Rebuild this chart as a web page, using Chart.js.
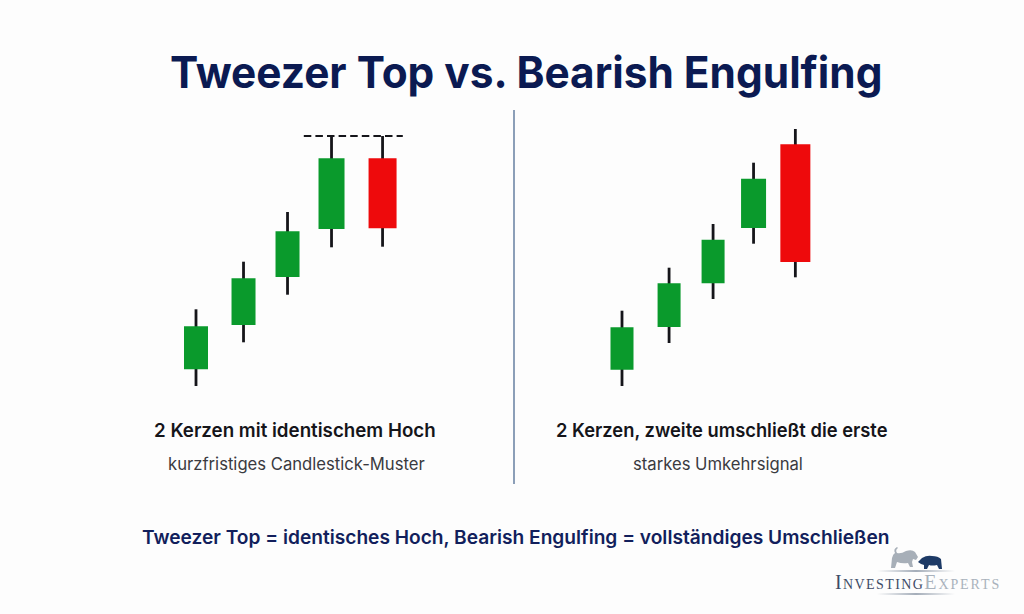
<!DOCTYPE html>
<html lang="de">
<head>
<meta charset="utf-8">
<title>Tweezer Top vs. Bearish Engulfing</title>
<script src="https://cdn.jsdelivr.net/npm/chart.js@4/dist/chart.umd.min.js"></script>
<style>
  html, body { margin: 0; padding: 0; background: #fdfdfd; }
  #page { position: relative; width: 1024px; height: 614px; overflow: hidden; font-family: Inter, "Noto Sans", sans-serif; }
  canvas { position: absolute; }
  .txt { position: absolute; white-space: nowrap; line-height: 1; transform-origin: left center; }
  #title { left: 170px; top: 50px; font-size: 44px; font-weight: 700; color: #0b1a52; transform: scaleX(0.963); }
  .head { top: 421px; font-size: 19px; font-weight: 600; color: #15151a; }
  .sub { top: 456px; font-size: 16.65px; color: #3a3a40; }
  #note { left: 142px; top: 528px; font-size: 19.15px; font-weight: 600; color: #121f5c; }
  #divider { position: absolute; left: 513px; top: 110px; width: 1.5px; height: 374px; background: #8c9fb8; }
  #brand { left: 835px; top: 572px; font-family: "Liberation Serif", serif; font-size: 20px; font-variant: small-caps; letter-spacing: 1.4px; color: #3d4b66; }
  #brand span { color: #a9b2bc; letter-spacing: 1.9px; }
  .rule { position: absolute; left: 877px; width: 78px; height: 2px; background: linear-gradient(90deg, rgba(150,160,175,0), #a4adb9 50%, rgba(150,160,175,0)); }
</style>
</head>
<body>
<div id="page">
  <div class="txt" id="title">Tweezer Top vs. Bearish Engulfing</div>

  <canvas id="leftChart" width="264" height="280" style="left:152px;top:120px"></canvas>
  <canvas id="rightChart" width="264" height="280" style="left:578px;top:120px"></canvas>
  <div id="divider"></div>

  <div class="txt head" style="left:154px;transform:scaleX(0.986)">2 Kerzen mit identischem Hoch</div>
  <div class="txt sub" style="left:168px">kurzfristiges Candlestick-Muster</div>
  <div class="txt head" style="left:556px;transform:scaleX(0.965)">2 Kerzen, zweite umschließt die erste</div>
  <div class="txt sub" style="left:633px">starkes Umkehrsignal</div>
  <div class="txt" id="note">Tweezer Top = identisches Hoch, Bearish Engulfing = vollständiges Umschließen</div>

  <svg style="position:absolute;left:885px;top:545px" width="62" height="26" viewBox="0 0 62 26">
    <path fill="#a7afb8" d="M6 23 L7 13 Q8 9 10 8 Q8 4 12 2 L13 3 Q10 5 12 8 Q16 9 21 6 Q27 4 30 7 L33 12 L31 15 L28 14 L27 17 L28 22 L25 22 L23 18 Q17 19 12 17 L10 23 Z"/>
    <path fill="#1d3a66" d="M33 17 L37 13 Q42 10 47 11 Q53 11 56 14 L57 24 L54 24 L52 20 Q47 21 44 20 L42 24 L39 24 L39 20 L36 19 Z"/>
  </svg>
  <div class="rule" style="top:570px"></div>
  <div class="txt" id="brand">Investing<span>Experts</span></div>
  <div class="rule" style="top:593px"></div>
</div>

<script>
// Left panel: Tweezer Top
const leftSessions = [1, 2.08, 3.08, 4.08, 5.24];
const leftOpen = [3.07, 7.5, 12.3, 17.1, 24.17];
const leftClose = [7.37, 12.17, 16.87, 24.17, 17.17];
const leftHigh = [9.07, 13.83, 18.8, 26.4, 26.4];
const leftLow = [1.4, 5.77, 10.53, 15.27, 15.33];

// dashed line across the two equal highs
const tweezerLevel = 26.4;
const tweezerFrom = 3.45;
const tweezerTo = 5.7;

// Right panel: Bearish Engulfing
const rightSessions = [1, 2.07, 3.07, 3.99, 4.94];
const rightOpen = [3.03, 7.3, 11.67, 17.2, 25.57];
const rightClose = [7.27, 11.67, 16.03, 22.13, 13.8];
const rightHigh = [8.93, 13.23, 17.6, 23.73, 27.1];
const rightLow = [1.4, 5.7, 10.1, 15.63, 12.27];

const green = '#0a9a2c';
const red = '#ee0a0c';
const wickColor = '#15151a';
const leftBodyWidths = [24, 24, 24, 26, 28];
const rightBodyWidths = [23, 23, 23, 25, 30];

function segment(x, a, b, color, width) {
    return {
        data: [{ x: x, y: a }, { x: x, y: b }],
        borderColor: color,
        borderWidth: width,
        borderCapStyle: 'butt',
        pointRadius: 0,
        tension: 0
    };
}

function candleChart(id, sessions, open, close, high, low, widths, extra) {
    const datasets = [...extra];
    // line charts paint the first dataset on top, so bodies go in before wicks
    sessions.forEach((s, i) => {
        datasets.push(segment(s, open[i], close[i], close[i] >= open[i] ? green : red, widths[i]));
    });
    sessions.forEach((s, i) => {
        datasets.push(segment(s, low[i], high[i], wickColor, 2.8));
    });

    return new Chart(document.getElementById(id).getContext('2d'), {
        type: 'line',
        data: { datasets: datasets },
        options: {
            responsive: false,
            animation: false,
            layout: { padding: 0 },
            plugins: { legend: { display: false }, tooltip: { enabled: false } },
            scales: {
                x: { type: 'linear', min: 0, max: 6, display: false },
                y: { type: 'linear', min: 0, max: 28, display: false }
            }
        }
    });
}

const tweezerLine = {
    data: [{ x: tweezerFrom, y: tweezerLevel }, { x: tweezerTo, y: tweezerLevel }],
    borderColor: wickColor,
    borderWidth: 2,
    borderDash: [7.5, 4.1],
    pointRadius: 0
};

candleChart('leftChart', leftSessions, leftOpen, leftClose, leftHigh, leftLow, leftBodyWidths, [tweezerLine]);
candleChart('rightChart', rightSessions, rightOpen, rightClose, rightHigh, rightLow, rightBodyWidths, []);
</script>
</body>
</html>
